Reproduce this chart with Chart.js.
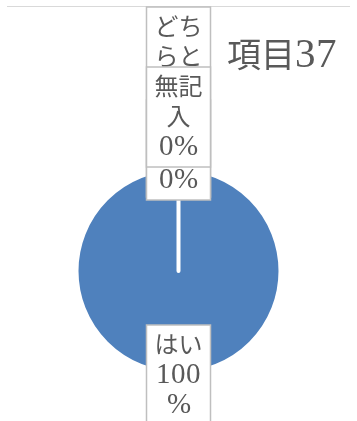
<!DOCTYPE html>
<html lang="ja">
<head>
<meta charset="utf-8">
<script src="https://cdn.jsdelivr.net/npm/chart.js@4/dist/chart.umd.min.js"></script>
<style>
  @font-face {
    font-family: 'LabelLatin';
    src: local('Liberation Serif'), local('LiberationSerif');
    size-adjust: 120%;
    unicode-range: U+0000-00FF;
  }
  html, body { margin: 0; padding: 0; background: #fff; }
  #wrap { width: 357px; height: 421px; }
</style>
</head>
<body>
<div id="wrap"><canvas id="chart-item37" width="357" height="421"></canvas></div>
<script>
// Data
const chartTitle = '項目37';
const categories = ['はい', 'いいえ', 'どちらともいえない', '無記入'];
const values = [100, 0, 0, 0];
const sliceColors = ['#4f81bd', '#c0504d', '#9bbb59', '#8064a2'];

const TEXT_COLOR = '#595959';
const FONT_FAMILY = '"LabelLatin", "Liberation Serif", "Noto Sans CJK JP", serif';
const LABEL_FONT = `24px ${FONT_FAMILY}`;
const LINE_H = 30;
const BOX_W = 64;
const BOX_PAD = 5;
const WRAP_W = 52;
const FRAME_TOP = 6;

/**
 * Break text char by char so it fits the label box
 */
function wrapText(ctx, text) {
  const lines = [];
  let cur = '';
  for (const ch of text) {
    if (cur && ctx.measureText(cur + ch).width > WRAP_W) {
      lines.push(cur);
      cur = ch;
    } else {
      cur += ch;
    }
  }
  if (cur) lines.push(cur);
  return lines;
}

/**
 * Frame line + title
 */
const framePlugin = {
  id: 'frame',
  beforeDraw(chart) {
    const ctx = chart.ctx;
    ctx.save();
    ctx.strokeStyle = '#d9d9d9';
    ctx.lineWidth = 1;
    ctx.beginPath();
    ctx.moveTo(7, FRAME_TOP + 0.5);
    ctx.lineTo(350, FRAME_TOP + 0.5);
    ctx.stroke();
    ctx.restore();
  },
  afterDraw(chart) {
    const ctx = chart.ctx;
    ctx.save();
    ctx.font = `34px ${FONT_FAMILY}`;
    ctx.fillStyle = TEXT_COLOR;
    ctx.textAlign = 'center';
    ctx.textBaseline = 'middle';
    ctx.fillText(chartTitle, 282, 56);
    ctx.restore();
  },
};

/**
 * Excel-like boxed data labels (name + percent)
 */
const labelPlugin = {
  id: 'boxLabels',
  afterDatasetsDraw(chart) {
    const ctx = chart.ctx;
    const arcs = chart.getDatasetMeta(0).data;
    const total = values.reduce((a, b) => a + b, 0);

    ctx.save();
    ctx.font = LABEL_FONT;

    const boxes = [];
    let stack = 0;
    arcs.forEach((arc, i) => {
      const pct = Math.round((values[i] / total) * 100) + '%';
      const lines = [...wrapText(ctx, categories[i]), ...wrapText(ctx, pct)];
      const h = lines.length * LINE_H + BOX_PAD * 2;
      const mid = (arc.startAngle + arc.endAngle) / 2;
      const ax = arc.x + Math.cos(mid) * (arc.outerRadius + 2);
      const ay = arc.y + Math.sin(mid) * (arc.outerRadius + 2);

      let top;
      let clamped = false;
      if (values[i] > 0) {
        top = ay - h / 2;
      } else {
        // zero slices pile up at the same spot
        const bottom = ay + (LINE_H + 3) * (1 - stack);
        top = bottom - h;
        if (top < FRAME_TOP + 1) {
          top = FRAME_TOP + 1;
          clamped = true;
        } else {
          stack++;
        }
      }
      boxes.push({ x: ax - BOX_W / 2, cx: ax, top, h, lines, clamped });
    });

    // pushed-back boxes go underneath
    boxes.sort((a, b) => b.clamped - a.clamped);

    boxes.forEach((b) => {
      ctx.fillStyle = '#ffffff';
      ctx.fillRect(b.x, b.top, BOX_W, b.h);
      ctx.strokeStyle = '#bfbfbf';
      ctx.lineWidth = 1.5;
      ctx.strokeRect(b.x, b.top, BOX_W, b.h);

      ctx.fillStyle = TEXT_COLOR;
      ctx.textAlign = 'center';
      ctx.textBaseline = 'middle';
      b.lines.forEach((line, j) => {
        ctx.fillText(line, b.cx, b.top + BOX_PAD + LINE_H * (j + 0.5));
      });
    });

    ctx.restore();
  },
};

function drawChart() {
  const canvas = document.getElementById('chart-item37');

  new Chart(canvas, {
    type: 'pie',
    data: {
      labels: categories,
      datasets: [
        {
          data: values,
          backgroundColor: sliceColors,
          borderColor: '#ffffff',
          borderWidth: 4,
          borderJoinStyle: 'round',
          hoverOffset: 0,
        },
      ],
    },
    options: {
      responsive: false,
      animation: false,
      radius: 102,
      layout: {
        padding: { top: 169, bottom: 48, left: 0, right: 0 },
      },
      plugins: {
        legend: { display: false },
        tooltip: { enabled: false },
      },
    },
    plugins: [framePlugin, labelPlugin],
  });
}

document.fonts.load('24px "LabelLatin"', '0%')
  .catch(() => null)
  .then(drawChart);
</script>
</body>
</html>
